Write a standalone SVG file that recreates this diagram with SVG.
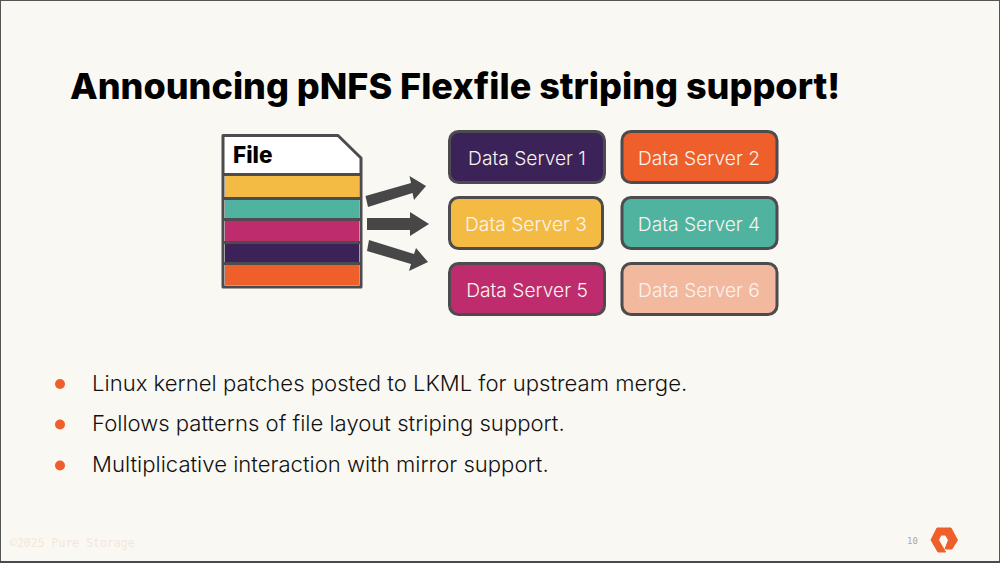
<svg xmlns="http://www.w3.org/2000/svg" width="1000" height="563" viewBox="0 0 1000 563">
<style>
text{font-family:Inter,"Liberation Sans",sans-serif}
.t{font-size:36px;font-weight:800;fill:#000}
.b{font-size:22.1px;font-weight:300;fill:#111}
.d{fill:#ee5f2b}
.s{font-size:19.2px;font-weight:300;fill:#fbf3ee;text-anchor:middle}
.box{stroke:#4d4b4d;stroke-width:3}
.ar{fill:#474747}
.m{font-family:"DejaVu Sans Mono","Liberation Mono",monospace}
</style>
<rect x="0.5" y="0.5" width="999" height="561" fill="#faf8f3" stroke="#555" stroke-width="1"/>
<rect x="0" y="561" width="1000" height="2" fill="#4a4a4a"/>
<text class="t" x="70" y="99">Announcing pNFS Flexfile striping support!</text>
<g id="file">
<path d="M223 135.500H338L361 158V287H223Z" fill="#fff" stroke="#4d4b4d" stroke-width="3" stroke-linejoin="round"/>
<rect x="225" y="176" width="134" height="21" fill="#f4bb44"/>
<rect x="225" y="200" width="134" height="18" fill="#4fb3a0"/>
<rect x="225" y="221" width="134" height="20" fill="#bf2c6d"/>
<rect x="225" y="244" width="134" height="18" fill="#3b2359"/>
<rect x="225" y="265" width="134" height="20" fill="#ee5f2b"/>
<path d="M224 174.500H360M224 198.500H360M224 219.500H360M224 242.500H360M224 263.500H360" stroke="#4d4b4d" stroke-width="3" fill="none"/>
<text x="233" y="163" font-size="22.500" font-weight="800" fill="#000">File</text>
</g>
<g id="connectors">
<path class="ar" d="M365.500 196L411 183L409.500 176L426 186L414 200L412.500 193L368 207Z"/>
<path class="ar" d="M367 218H410V212L429 224L410 236V230H367Z"/>
<path class="ar" d="M369 240L414 254L416 248L428 262L409 271L411 264L367 251Z"/>
</g>
<g id="ds1"><rect class="box" x="449.500" y="131.500" width="155" height="51" rx="9" fill="#3b2359"/><text class="s" x="527" y="165">Data Server 1</text></g>
<g id="ds2"><rect class="box" x="622" y="131.500" width="155" height="51" rx="9" fill="#ee5f2b"/><text class="s" x="699" y="165">Data Server 2</text></g>
<g id="ds3"><rect class="box" x="449.500" y="197.500" width="153" height="51" rx="9" fill="#f4bb44"/><text class="s" x="526" y="231">Data Server 3</text></g>
<g id="ds4"><rect class="box" x="622" y="197.500" width="155" height="51" rx="9" fill="#4fb3a0"/><text class="s" x="699" y="231">Data Server 4</text></g>
<g id="ds5"><rect class="box" x="449.500" y="263.500" width="155" height="51" rx="9" fill="#bf2c6d"/><text class="s" x="527" y="297">Data Server 5</text></g>
<g id="ds6"><rect class="box" x="622" y="263.500" width="155" height="51" rx="9" fill="#f2b99e"/><text class="s" x="699" y="297">Data Server 6</text></g>
<g id="bullets">
<circle class="d" cx="60" cy="384" r="5"/><text class="b" x="92" y="391">Linux kernel patches posted to LKML for upstream merge.</text>
<circle class="d" cx="60" cy="424.500" r="5"/><text class="b" x="92" y="431">Follows patterns of file layout striping support.</text>
<circle class="d" cx="60" cy="465.500" r="5"/><text class="b" x="92" y="472">Multiplicative interaction with mirror support.</text>
</g>
<text class="m" x="10" y="546.500" font-size="11.500" fill="#f5e6da">©2025 Pure Storage</text>
<text class="m" x="907" y="544" font-size="9" fill="#aaa">10</text>
<g id="logo"><path d="M937 528H951L957.500 540L952 549H945L948.500 540L945.500 535H941L938.500 540L945.500 552H938L931 540Z" fill="#ee5f2b" stroke="#ee5f2b" stroke-width="1" stroke-linejoin="round"/></g>
</svg>
